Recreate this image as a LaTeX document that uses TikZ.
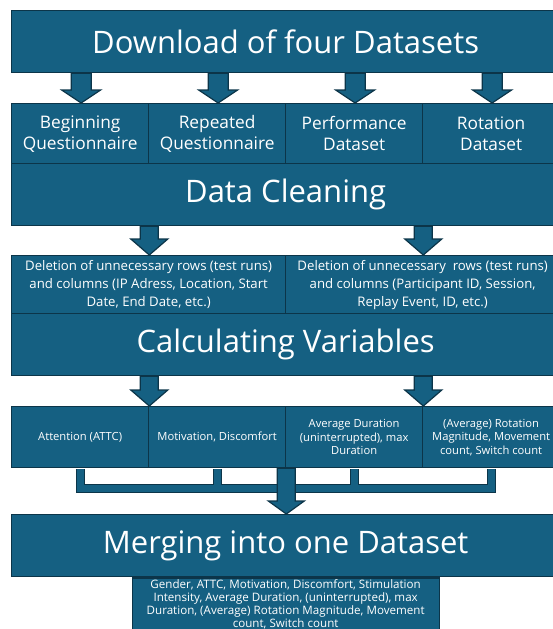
\documentclass[tikz,border=0pt]{standalone}
\usepackage{fontspec}
\setmainfont{Open Sans}
\usetikzlibrary{calc,positioning}

\definecolor{boxblue}{HTML}{156082}
\definecolor{boxline}{HTML}{0C3549}

\tikzset{
  block/.style={draw=boxline, fill=boxblue, line width=1.3pt, text=white,
    inner sep=0pt, anchor=north west, align=center},
  wide/.style={block, minimum width=548pt, minimum height=62pt, font=\fontsize{31}{36}\selectfont},
  cell/.style={block, minimum width=137pt, minimum height=60pt, font=\fontsize{17.3}{21}\selectfont},
  halfcell/.style={block, minimum width=274pt, minimum height=58pt, font=\fontsize{13.2}{18}\selectfont},
  varcell/.style={block, minimum width=137pt, minimum height=61pt, font=\fontsize{11.2}{13.5}\selectfont},
  pipeout/.style={draw=boxline, line width=9pt, line join=miter},
  pipein/.style={draw=boxblue, line width=7pt, line join=miter},
  barrow/.style={fill=boxblue, draw=boxline, line width=1.2pt, line join=miter},
}

% block arrow: #1 = start point, #2 = tip point, #3 = half shaft width,
% #4 = half head width, #5 = head length
\newcommand{\blockarrow}[5]{%
  \filldraw[barrow] let \p1=(#1), \p2=(#2) in
    (\x1-#3,\y1) -- (\x1+#3,\y1) -- (\x1+#3,\y2+#5) -- (\x1+#4,\y2+#5)
    -- (\x2,\y2) -- (\x1-#4,\y2+#5) -- (\x1-#3,\y2+#5) -- cycle;}

\begin{document}
\begin{tikzpicture}[x=1pt, y=-1pt]
\useasboundingbox (0,0) rectangle (553,629);

% stage 1
\node[wide] (download) at (11,10) {Download of four Datasets};

% source datasets
\node[cell] (beg) at (11,103) {Beginning\\Questionnaire};
\node[cell] (rep) at (148,103) {Repeated\\Questionnaire};
\node[cell] (perf) at (285,103) {Performance\\Dataset};
\node[cell] (rot) at (422,103) {Rotation\\Dataset};

% stage 2
\node[wide] (clean) at (11,163) {Data Cleaning};

\node[halfcell] (delq) at (11,255) {Deletion of unnecessary rows (test runs)\\and columns (IP Adress, Location, Start\\Date, End Date, etc.)};
\node[halfcell] (delp) at (285,255) {Deletion of unnecessary\ \ rows (test runs)\\and columns (Participant ID, Session,\\Replay Event, ID, etc.)};

% stage 3
\node[wide] (calc) at (11,313) {Calculating Variables};

\node[varcell] (att) at (11,406) {Attention (ATTC)};
\node[varcell] (mot) at (148,406) {Motivation, Discomfort};
\node[varcell] (dur) at (285,406) {Average Duration\\(uninterrupted), max\\Duration};
\node[varcell] (rmag) at (422,406) {(Average) Rotation\\Magnitude, Movement\\count, Switch count};

% stage 4
\node[wide] (merge) at (11,514) {Merging into one Dataset};
\node[draw=boxline, fill=boxblue, line width=1.3pt, text=white, anchor=north,
  minimum width=307pt, minimum height=66pt, inner sep=0pt, align=center,
  font=\fontsize{11.6}{12.9}\selectfont] (final) at (merge.south) 
  {\rule{0pt}{11pt}Gender, ATTC, Motivation, Discomfort, Stimulation\\Intensity, Average Duration, (uninterrupted), max\\Duration, (Average) Rotation Magnitude, Movement\\count, Switch count\\[10pt]};

% arrows from the download step into each dataset
\foreach \c in {beg,rep,perf,rot}{
  \blockarrow{$(\c.north |- download.south)+(1,0)$}{$(\c.north)+(1,0)$}{10pt}{19.5pt}{13pt}
}

% arrows from data cleaning into the two deletion steps
\foreach \c in {beg,perf}{
  \blockarrow{\c.north east |- clean.south}{\c.north east |- delq.north}{9pt}{18.5pt}{16pt}
}

% arrows from calculating variables into the variable groups
\foreach \c in {att,perf}{
  \blockarrow{\c.north east |- calc.south}{\c.north east |- att.north}{9pt}{18.5pt}{16pt}
}

% collecting pipes below the variable groups
\coordinate (bar) at (0,488);
\foreach \s in {pipeout,pipein}{
  \draw[\s, shorten <=1pt, shorten >=1pt] (att.south) -- (att.south |- bar) -- (rmag.south |- bar) -- (rmag.south);
  \draw[\s, shorten <=1pt] (mot.south) -- (mot.south |- bar);
  \draw[\s, shorten <=1pt] (dur.south) -- (dur.south |- bar);
}

% merge arrow
\blockarrow{mot.south east}{mot.south east |- merge.north}{9pt}{18pt}{13pt}

\end{tikzpicture}
\end{document}
